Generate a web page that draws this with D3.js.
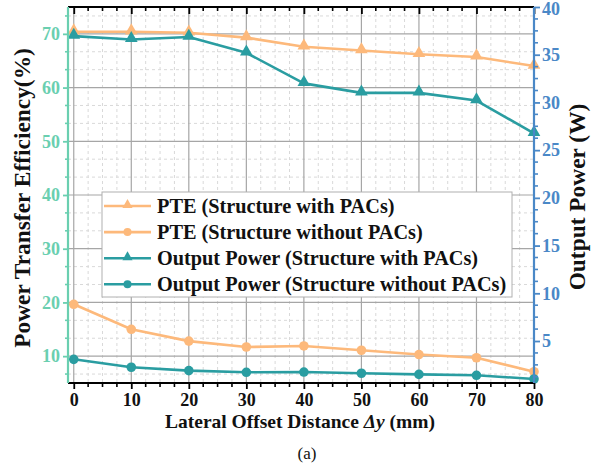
<!DOCTYPE html>
<html>
<head>
<meta charset="utf-8">
<script src="https://cdn.jsdelivr.net/npm/d3@7"></script>
<style>
  html, body { margin: 0; padding: 0; background: #fff; }
  svg { display: block; }
  svg text { font-family: "Liberation Serif", "Times New Roman", serif; }
</style>
</head>
<body>
<svg id="chart" width="606" height="469"></svg>
<script>
// Lateral offset (mm)
const offsets = [0, 10, 20, 30, 40, 50, 60, 70, 80];
// Power transfer efficiency (%)
const pteWithPACs    = [70.4, 70.4, 70.2, 69.3, 67.6, 66.9, 66.2, 65.7, 64.0];
const pteWithoutPACs = [19.65, 15.0, 12.8, 11.7, 11.9, 11.1, 10.3, 9.7, 7.1];
// Output power (W)
const powerWithPACs    = [36.95, 36.6, 36.85, 35.2, 32.0, 31.0, 31.0, 30.2, 26.75];
const powerWithoutPACs = [3.08, 2.25, 1.9, 1.72, 1.75, 1.62, 1.5, 1.41, 1.02];

const xTicks = [0, 10, 20, 30, 40, 50, 60, 70, 80];
const leftTicks = [10, 20, 30, 40, 50, 60, 70];
const rightTicks = [5, 10, 15, 20, 25, 30, 35, 40];

const seriesNames = [
  "PTE (Structure with PACs)",
  "PTE (Structure without PACs)",
  "Output Power (Structure with PACs)",
  "Output Power (Structure without PACs)"
];

const ORANGE = "#FDB97B";
const TEAL = "#2A9DA1";
const GREEN = "#6ACFB0";
const BLUE = "#4A88C7";
const SERIF = "'Liberation Serif', 'Times New Roman', serif";

const svg = d3.select("#chart");
const L = 68, R = 534, T = 7, B = 383;

const x = d3.scaleLinear().domain([-1, 80]).range([L, R]);
const yL = d3.scaleLinear().domain([5, 75]).range([B, T]);
const yR = d3.scaleLinear().domain([0.6, 40]).range([B, T]);

// minor tick positions
const xMinor = d3.range(0, 80.01, 2.5).filter(v => v % 10 !== 0);
const leftMinor = [];
for (let d = 0; d <= 70; d += 10) {
  [d + 10 / 3, d + 20 / 3].forEach(v => { if (v >= 5 && v <= 75) leftMinor.push(v); });
}
const rightMinor = d3.range(1.25, 40.01, 1.25).filter(v => v % 5 !== 0);

// grid
const grid = svg.append("g");
grid.selectAll(".vmin").data(xMinor).enter().append("line")
  .attr("x1", d => x(d)).attr("x2", d => x(d)).attr("y1", T).attr("y2", B)
  .attr("stroke", "#d9d9d9").attr("stroke-width", 1).attr("stroke-dasharray", "3,3");
grid.selectAll(".hmin").data(leftMinor).enter().append("line")
  .attr("x1", L).attr("x2", R).attr("y1", d => yL(d)).attr("y2", d => yL(d))
  .attr("stroke", "#d9d9d9").attr("stroke-width", 1).attr("stroke-dasharray", "3,3");
grid.selectAll(".vmaj").data(xTicks).enter().append("line")
  .attr("x1", d => x(d)).attr("x2", d => x(d)).attr("y1", T).attr("y2", B)
  .attr("stroke", "#a6a6a6").attr("stroke-width", 1.2);
grid.selectAll(".hmaj").data(leftTicks).enter().append("line")
  .attr("x1", L).attr("x2", R).attr("y1", d => yL(d)).attr("y2", d => yL(d))
  .attr("stroke", "#a6a6a6").attr("stroke-width", 1.2);

// legend box
const lg = svg.append("g");
lg.append("rect").attr("x", 102).attr("y", 192).attr("width", 410).attr("height", 105)
  .attr("fill", "#fff").attr("stroke", "#b0b0b0").attr("stroke-width", 1);

const tri = d3.symbol().type(d3.symbolTriangle);

const series = [
  { vals: pteWithPACs, y: yL, color: ORANGE, marker: "tri" },
  { vals: pteWithoutPACs, y: yL, color: ORANGE, marker: "circle" },
  { vals: powerWithPACs, y: yR, color: TEAL, marker: "tri" },
  { vals: powerWithoutPACs, y: yR, color: TEAL, marker: "circle" }
];

series.forEach((s, i) => {
  const pts = offsets.map((o, k) => [o, s.vals[k]]);
  const line = d3.line().x(d => x(d[0])).y(d => s.y(d[1]));
  const g = svg.append("g");
  g.append("path").datum(pts).attr("d", line).attr("fill", "none")
    .attr("stroke", s.color).attr("stroke-width", 2.6).attr("stroke-linejoin", "round");
  if (s.marker === "tri") {
    g.selectAll("path.m").data(pts).enter().append("path").attr("class", "m")
      .attr("d", tri.size(70)())
      .attr("transform", d => `translate(${x(d[0])},${s.y(d[1]) - 1})`)
      .attr("fill", s.color);
  } else {
    g.selectAll("circle").data(pts).enter().append("circle")
      .attr("cx", d => x(d[0])).attr("cy", d => s.y(d[1])).attr("r", 4.8)
      .attr("fill", s.color);
  }
  // legend entry
  const ly = 206 + i * 26.1;
  lg.append("line").attr("x1", 104).attr("x2", 151).attr("y1", ly).attr("y2", ly)
    .attr("stroke", s.color).attr("stroke-width", 2.6);
  if (s.marker === "tri") {
    lg.append("path").attr("d", tri.size(45)()).attr("transform", `translate(127.5,${ly - 1})`)
      .attr("fill", s.color);
  } else {
    lg.append("circle").attr("cx", 127.5).attr("cy", ly).attr("r", 4).attr("fill", s.color);
  }
  lg.append("text").attr("x", 157).attr("y", ly + 6.5).text(seriesNames[i])
    .attr("font-size", 20.3).attr("font-weight", "bold").attr("fill", "#111");
});

function styleLabels(g, color) {
  g.attr("font-family", SERIF);
  g.selectAll("text").attr("font-size", 18).attr("font-weight", "bold").attr("fill", color)
    .style("font-family", SERIF);
}

// bottom axis
const gb = svg.append("g").attr("transform", `translate(0,${B})`)
  .call(d3.axisBottom(x).tickValues(xTicks).tickSize(6).tickPadding(4).tickFormat(d3.format("d")));
gb.append("g").selectAll("line").data(xMinor).enter().append("line")
  .attr("x1", d => x(d)).attr("x2", d => x(d)).attr("y1", 0).attr("y2", 4)
  .attr("stroke", "#000").attr("stroke-width", 1.6);
gb.select(".domain").attr("d", `M${L},0H${R}`).attr("stroke-width", 2.2);
gb.selectAll(".tick line").attr("stroke-width", 1.8);
styleLabels(gb, "#111");

// top axis (mirror, ticks inward)
const gt = svg.append("g").attr("transform", `translate(0,${T})`)
  .call(d3.axisBottom(x).tickValues(xTicks).tickSize(7).tickFormat(""));
gt.append("g").selectAll("line").data(xMinor).enter().append("line")
  .attr("x1", d => x(d)).attr("x2", d => x(d)).attr("y1", 0).attr("y2", 4)
  .attr("stroke", "#000").attr("stroke-width", 1.6);
gt.select(".domain").attr("d", `M${L},0H${R}`).attr("stroke-width", 2.2);
gt.selectAll(".tick line").attr("stroke-width", 1.8);

// left axis
const gl = svg.append("g").attr("transform", `translate(${L},0)`)
  .call(d3.axisLeft(yL).tickValues(leftTicks).tickSize(5).tickPadding(3));
gl.append("g").selectAll("line").data(leftMinor).enter().append("line")
  .attr("x1", 0).attr("x2", -3).attr("y1", d => yL(d)).attr("y2", d => yL(d))
  .attr("stroke", GREEN).attr("stroke-width", 1.6);
gl.select(".domain").attr("d", `M0,${T}V${B}`).attr("stroke", GREEN).attr("stroke-width", 2.2);
gl.selectAll(".tick line").attr("stroke", GREEN).attr("stroke-width", 1.8);
styleLabels(gl, GREEN);

// right axis
const gr = svg.append("g").attr("transform", `translate(${R},0)`)
  .call(d3.axisRight(yR).tickValues(rightTicks).tickSize(6).tickPadding(2));
gr.append("g").selectAll("line").data(rightMinor).enter().append("line")
  .attr("x1", 0).attr("x2", 4).attr("y1", d => yR(d)).attr("y2", d => yR(d))
  .attr("stroke", BLUE).attr("stroke-width", 1.6);
gr.select(".domain").attr("d", `M0,${T}V${B}`).attr("stroke", BLUE).attr("stroke-width", 2.2);
gr.selectAll(".tick line").attr("stroke", BLUE).attr("stroke-width", 1.8);
styleLabels(gr, BLUE);
gr.selectAll(".tick text").filter(d => d === 40).attr("dy", "0.42em");

// axis titles
svg.append("text").attr("transform", "translate(30,198) rotate(-90)")
  .attr("text-anchor", "middle").attr("font-size", 23.4).attr("font-weight", "bold")
  .attr("fill", "#111").text("Power Transfer Efficiency(%)");
svg.append("text").attr("transform", "translate(585,197) rotate(-90)")
  .attr("text-anchor", "middle").attr("font-size", 23.4).attr("font-weight", "bold")
  .attr("fill", "#111").text("Output Power (W)");

const xt = svg.append("text").attr("x", 300).attr("y", 428).attr("text-anchor", "middle")
  .attr("font-size", 19.5).attr("font-weight", "bold").attr("fill", "#111");
xt.append("tspan").text("Lateral Offset Distance ");
xt.append("tspan").attr("font-style", "italic").text("Δy");
xt.append("tspan").text(" (mm)");

svg.append("text").attr("x", 307).attr("y", 459).attr("text-anchor", "middle")
  .attr("font-size", 17).attr("fill", "#111").text("(a)");
</script>
</body>
</html>
